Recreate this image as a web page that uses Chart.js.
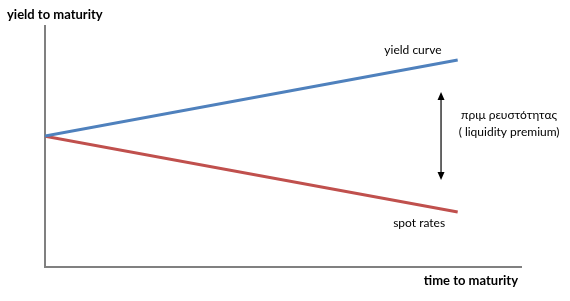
<!DOCTYPE html>
<html>
<head>
<meta charset="utf-8">
<script src="https://cdn.jsdelivr.net/npm/chart.js@4/dist/chart.umd.min.js"></script>
<style>
html,body{margin:0;padding:0;background:#fff;}
#wrap{width:570px;height:301px;}
</style>
</head>
<body>
<div id="wrap"><canvas id="c" width="570" height="301"></canvas></div>
<script>
// data (abstract units: time 0..10, yield 0..10)
const timePoints = [0, 8.67];
const yieldCurve = [5.43, 8.59];
const spotRates = [5.43, 2.28];
const premiumArrow = {x: 8.32, top: 7.26, bottom: 3.61};
const seriesLabels = ['yield curve', 'spot rates'];
const premiumLabel = ['πριμ ρευστότητας', '( liquidity premium)'];
const axisTitles = {x: 'time to maturity', y: 'yield to maturity'};

const FONT = 'Lato, "Open Sans", "Liberation Sans", sans-serif';

const annot = {
  id: 'annot',
  afterDatasetsDraw(chart) {
    const ctx = chart.ctx;
    const xs = chart.scales.x, ys = chart.scales.y;
    const ca = chart.chartArea;
    ctx.save();
    // axis titles
    ctx.fillStyle = '#000';
    ctx.font = 'bold 13px ' + FONT;
    ctx.textBaseline = 'middle';
    ctx.textAlign = 'left';
    ctx.fillText(axisTitles.y, 7, 15);
    ctx.textAlign = 'right';
    ctx.fillText(axisTitles.x, ca.right - 3, 281);
    // series labels
    ctx.font = '12px ' + FONT;
    ctx.textAlign = 'center';
    ctx.fillText(seriesLabels[0], xs.getPixelForValue(7.73), ys.getPixelForValue(9.0));
    ctx.fillText(seriesLabels[1], xs.getPixelForValue(7.86), ys.getPixelForValue(1.83));
    ctx.fillText(premiumLabel[0], xs.getPixelForValue(9.75), ys.getPixelForValue(6.3));
    ctx.fillText(premiumLabel[1], xs.getPixelForValue(9.75), ys.getPixelForValue(5.6));
    // arrow
    const ax = xs.getPixelForValue(premiumArrow.x);
    const at = ys.getPixelForValue(premiumArrow.top);
    const ab = ys.getPixelForValue(premiumArrow.bottom);
    ctx.strokeStyle = '#000';
    ctx.lineWidth = 1.2;
    ctx.beginPath();
    ctx.moveTo(ax, at + 6);
    ctx.lineTo(ax, ab - 6);
    ctx.stroke();
    ctx.beginPath();
    ctx.moveTo(ax, at); ctx.lineTo(ax - 3.5, at + 8); ctx.lineTo(ax + 3.5, at + 8); ctx.closePath();
    ctx.moveTo(ax, ab); ctx.lineTo(ax - 3.5, ab - 8); ctx.lineTo(ax + 3.5, ab - 8); ctx.closePath();
    ctx.fillStyle = '#000';
    ctx.fill();
    ctx.restore();
  }
};

new Chart(document.getElementById('c'), {
  type: 'scatter',
  data: {
    datasets: [
      {
        label: seriesLabels[0],
        data: timePoints.map((t, i) => ({x: t, y: yieldCurve[i]})),
        showLine: true,
        borderColor: '#4f81bd',
        borderWidth: 3,
        pointRadius: 0
      },
      {
        label: seriesLabels[1],
        data: timePoints.map((t, i) => ({x: t, y: spotRates[i]})),
        showLine: true,
        borderColor: '#c0504d',
        borderWidth: 3,
        pointRadius: 0
      }
    ]
  },
  options: {
    responsive: false,
    animation: false,
    devicePixelRatio: 1,
    layout: {padding: {left: 45, top: 26, right: 49, bottom: 34}},
    plugins: {legend: {display: false}, tooltip: {enabled: false}},
    scales: {
      x: {
        type: 'linear', min: 0, max: 10,
        ticks: {display: false},
        grid: {display: false, drawTicks: false},
        border: {display: true, color: '#808080', width: 2}
      },
      y: {
        type: 'linear', min: 0, max: 10,
        ticks: {display: false},
        grid: {display: false, drawTicks: false},
        border: {display: true, color: '#808080', width: 2}
      }
    }
  },
  plugins: [annot]
});
</script>
</body>
</html>
